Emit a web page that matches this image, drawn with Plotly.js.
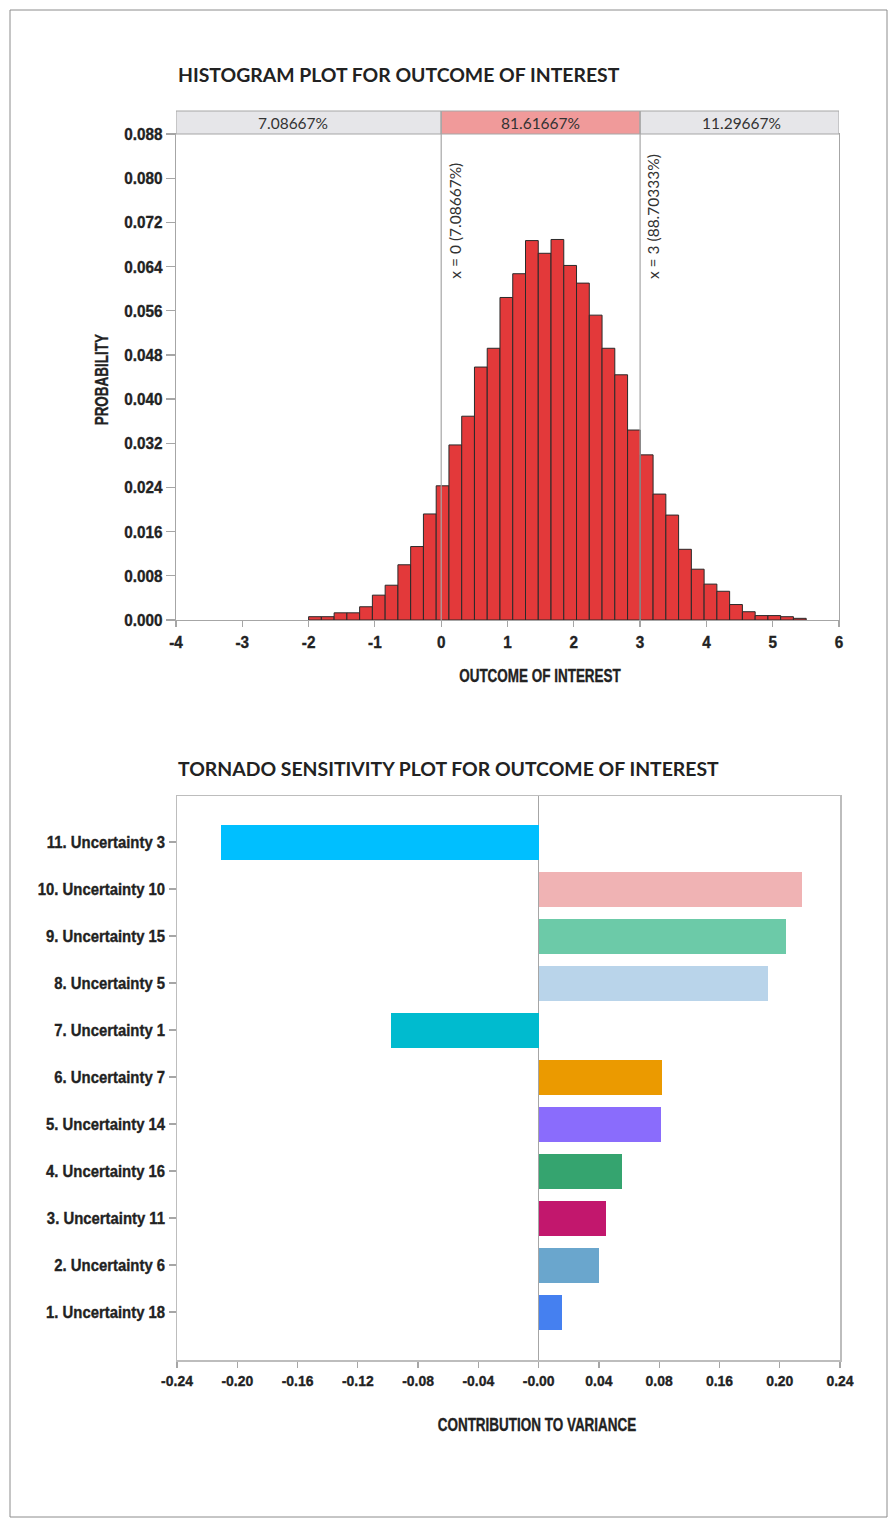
<!DOCTYPE html>
<html>
<head>
<meta charset="utf-8">
<script src="https://cdn.plot.ly/plotly-3.0.1.min.js"></script>
<style>
  html, body { margin: 0; padding: 0; background: #ffffff; }
  #chart { width: 888px; height: 1519px; }
</style>
</head>
<body>
<div id="chart"></div>
<script>
// ---------- Histogram data ----------
const binStart = -2.0;
const binWidth = 0.19244;
const probability = [
  0.0006, 0.0006, 0.0013, 0.0013, 0.0024, 0.0045, 0.0063, 0.0100, 0.0133, 0.0192,
  0.0243, 0.0317, 0.0369, 0.0458, 0.0492, 0.0584, 0.0627, 0.0687, 0.0664, 0.0689,
  0.0642, 0.0610, 0.0552, 0.0492, 0.0444, 0.0344, 0.0299, 0.0228, 0.0190, 0.0128,
  0.0092, 0.0065, 0.0052, 0.0028, 0.0015, 0.0008, 0.0008, 0.0006, 0.0003
];
const binCenters = probability.map((_, i) => binStart + (i + 0.5) * binWidth);

const cutPoints = [0, 3];
const cutLabels = ['x = 0 (7.08667%)', 'x = 3 (88.70333%)'];
const regionEdges = [-4, 0, 3, 6];
const regionShares = ['7.08667%', '81.61667%', '11.29667%'];
const regionColors = ['#e6e6e9', '#f09a9a', '#e6e6e9'];

const probTicks = [0, 0.008, 0.016, 0.024, 0.032, 0.040, 0.048, 0.056, 0.064, 0.072, 0.080, 0.088];
const outcomeTicks = [-4, -3, -2, -1, 0, 1, 2, 3, 4, 5, 6];

// ---------- Tornado data ----------
const factorLabels = [
  '1. Uncertainty 18', '2. Uncertainty 6', '3. Uncertainty 11', '4. Uncertainty 16',
  '5. Uncertainty 14', '6. Uncertainty 7', '7. Uncertainty 1', '8. Uncertainty 5',
  '9. Uncertainty 15', '10. Uncertainty 10', '11. Uncertainty 3'
];
const contribution = [
  0.0155, 0.0401, 0.0447, 0.0554, 0.0812, 0.0819, -0.0980, 0.1522, 0.1643, 0.1749, -0.2108
];
const factorColors = [
  '#4580f0', '#6aa6cd', '#c2176d', '#35a46f', '#8a6cfc', '#eb9a00',
  '#00bbcf', '#b9d4ea', '#6ccaa8', '#f0b3b4', '#00bfff'
];
const varianceTickVals = [-0.24, -0.20, -0.16, -0.12, -0.08, -0.04, 0, 0.04, 0.08, 0.12, 0.16, 0.20];
const varianceTickText = ['-0.24', '-0.20', '-0.16', '-0.12', '-0.08', '-0.04', '-0.00', '0.04', '0.08', '0.16', '0.20', '0.24'];

// ---------- Page geometry helpers (pixels -> paper fractions) ----------
const W = 888, H = 1519;
const px = v => v / W;
const py = v => 1 - v / H;

const labelFace = '"Liberation Sans", Arial, sans-serif';
const plain = 'Lato, "Open Sans", sans-serif';
const grid = '#a6a6a6';
const ink = '#222222';

const histTitle = 'HISTOGRAM PLOT FOR OUTCOME OF INTEREST';
const tornadoTitle = 'TORNADO SENSITIVITY PLOT FOR OUTCOME OF INTEREST';
const outcomeTitle = 'OUTCOME OF INTEREST';
const probTitle = 'PROBABILITY';
const varianceTitle = 'CONTRIBUTION TO VARIANCE';

// the left share label sits over the part of its region that extends past the axis start
const shareLabelShift = [-16, 0, 2];

const traces = [
  {
    type: 'bar',
    x: binCenters,
    y: probability,
    width: binWidth,
    xaxis: 'x', yaxis: 'y',
    marker: { color: '#e3393a', line: { color: '#2a2a2a', width: 1 } },
    hoverinfo: 'x+y'
  },
  {
    type: 'bar',
    orientation: 'h',
    x: contribution,
    y: factorLabels,
    width: 0.745,
    xaxis: 'x2', yaxis: 'y2',
    marker: { color: factorColors, line: { width: 0 } },
    hoverinfo: 'x+y'
  }
];

const shapes = [];
const annotations = [];

// strip of region shares above the histogram
for (let i = 0; i < regionShares.length; i++) {
  shapes.push({
    type: 'rect', xref: 'x', yref: 'paper',
    x0: regionEdges[i], x1: regionEdges[i + 1], y0: py(134), y1: py(111),
    fillcolor: regionColors[i], line: { color: grid, width: 1 }, layer: 'above'
  });
  annotations.push({
    xref: 'x', yref: 'paper',
    x: (regionEdges[i] + regionEdges[i + 1]) / 2, xshift: shareLabelShift[i], y: py(123),
    text: regionShares[i], showarrow: false,
    xanchor: 'center', yanchor: 'middle',
    font: { family: plain, size: 15.5, color: '#333333' }
  });
}

// cut lines with their cumulative labels
cutPoints.forEach((c, i) => {
  shapes.push({
    type: 'line', xref: 'x', yref: 'paper',
    x0: c, x1: c, y0: py(620), y1: py(111),
    line: { color: grid, width: 1.2 }, layer: 'above'
  });
  annotations.push({
    xref: 'x', yref: 'paper', x: c, xshift: 13.5, y: py(281),
    text: cutLabels[i], showarrow: false, textangle: -90,
    xanchor: 'center', yanchor: 'bottom',
    font: { family: plain, size: 15.5, color: '#333333' }
  });
});

// outer frame around the page
shapes.push({
  type: 'rect', xref: 'paper', yref: 'paper',
  x0: px(10), x1: px(887), y0: py(1517), y1: py(10),
  line: { color: '#8c8c8c', width: 1 }
});

// titles
annotations.push(
  {
    xref: 'paper', yref: 'paper', x: px(176), y: py(74),
    text: histTitle, showarrow: false, xanchor: 'left', yanchor: 'middle',
    font: { family: plain, size: 19.4, color: ink, weight: 'bold' }
  },
  {
    xref: 'paper', yref: 'paper', x: px(176), y: py(768),
    text: tornadoTitle, showarrow: false, xanchor: 'left', yanchor: 'middle',
    font: { family: plain, size: 19.4, color: ink, weight: 'bold' }
  },
  {
    xref: 'paper', yref: 'paper', x: px(540), y: py(676),
    text: outcomeTitle, showarrow: false, xanchor: 'center', yanchor: 'middle',
    font: { family: labelFace, size: 17.5, color: ink, weight: 'bold' }
  },
  {
    xref: 'paper', yref: 'paper', x: px(102), y: py(380),
    text: probTitle, showarrow: false, textangle: -90, xanchor: 'center', yanchor: 'middle',
    font: { family: labelFace, size: 17.5, color: ink, weight: 'bold' }
  },
  {
    xref: 'paper', yref: 'paper', x: px(537), y: py(1425),
    text: varianceTitle, showarrow: false, xanchor: 'center', yanchor: 'middle',
    font: { family: labelFace, size: 17.5, color: ink, weight: 'bold' }
  }
);

const tickFont = { family: labelFace, size: 17, color: ink, weight: 'bold' };

const layout = {
  width: W, height: H,
  margin: { l: 0, r: 0, t: 0, b: 0 },
  paper_bgcolor: '#ffffff', plot_bgcolor: '#ffffff',
  showlegend: false,
  bargap: 0,
  xaxis: {
    domain: [px(176), px(839)], anchor: 'y',
    range: [-4, 6], tickmode: 'array', tickvals: outcomeTicks, ticktext: outcomeTicks.map(String),
    ticks: 'outside', ticklen: 6, tickcolor: grid, tickwidth: 1.2,
    showline: true, linecolor: grid, linewidth: 1.2, mirror: true,
    showgrid: false, zeroline: false, tickfont: tickFont
  },
  yaxis: {
    domain: [py(620), py(134)], anchor: 'x',
    range: [0, 0.088], tickmode: 'array', tickvals: probTicks, tickformat: '.3f',
    ticks: 'outside', ticklen: 9, tickcolor: grid, tickwidth: 1.2,
    showline: true, linecolor: grid, linewidth: 1.2, mirror: true,
    showgrid: false, zeroline: false, tickfont: tickFont
  },
  xaxis2: {
    domain: [px(177), px(840)], anchor: 'y2',
    range: [-0.24, 0.20], tickmode: 'array', tickvals: varianceTickVals, ticktext: varianceTickText,
    ticks: 'outside', ticklen: 6, tickcolor: grid, tickwidth: 1.2,
    showline: true, linecolor: '#bdbdbd', linewidth: 1.5, mirror: true,
    showgrid: false, zeroline: true, zerolinecolor: grid, zerolinewidth: 1.2,
    tickfont: { family: labelFace, size: 15.5, color: ink, weight: 'bold' }
  },
  yaxis2: {
    domain: [py(1360), py(796)], anchor: 'x2',
    type: 'category', categoryorder: 'array', categoryarray: factorLabels,
    range: [-1.02, 10.98],
    ticks: 'outside', ticklen: 7, tickcolor: grid, tickwidth: 1.2,
    showline: true, linecolor: '#bdbdbd', linewidth: 1.5, mirror: true,
    showgrid: false, zeroline: false,
    tickfont: { family: labelFace, size: 17, color: ink, weight: 'bold' }
  },
  shapes: shapes,
  annotations: annotations
};

// Narrow a text element along its own baseline, keeping its anchor point fixed,
// and give it a slightly heavier stroke.
function narrow(el, factor) {
  const ax = parseFloat(el.getAttribute('x')) || 0;
  const prev = el.getAttribute('transform') || '';
  el.setAttribute('transform',
    `${prev} translate(${ax},0) scale(${factor},1) translate(${-ax},0)`.trim());
  el.style.stroke = ink;
  el.style.strokeWidth = '0.35px';
}

Plotly.newPlot('chart', traces, layout, { staticPlot: true, displayModeBar: false })
  .then(gd => {
    gd.querySelectorAll('.xtick text, .ytick text').forEach(t => narrow(t, 0.9));
    gd.querySelectorAll('.x2tick text').forEach(t => narrow(t, 0.9));
    gd.querySelectorAll('.y2tick text').forEach(t => narrow(t, 0.875));
    const condensedTitles = [outcomeTitle, probTitle, varianceTitle];
    gd.querySelectorAll('.annotation-text').forEach(t => {
      if (condensedTitles.includes(t.textContent)) narrow(t, 0.77);
    });
  });
</script>
</body>
</html>
